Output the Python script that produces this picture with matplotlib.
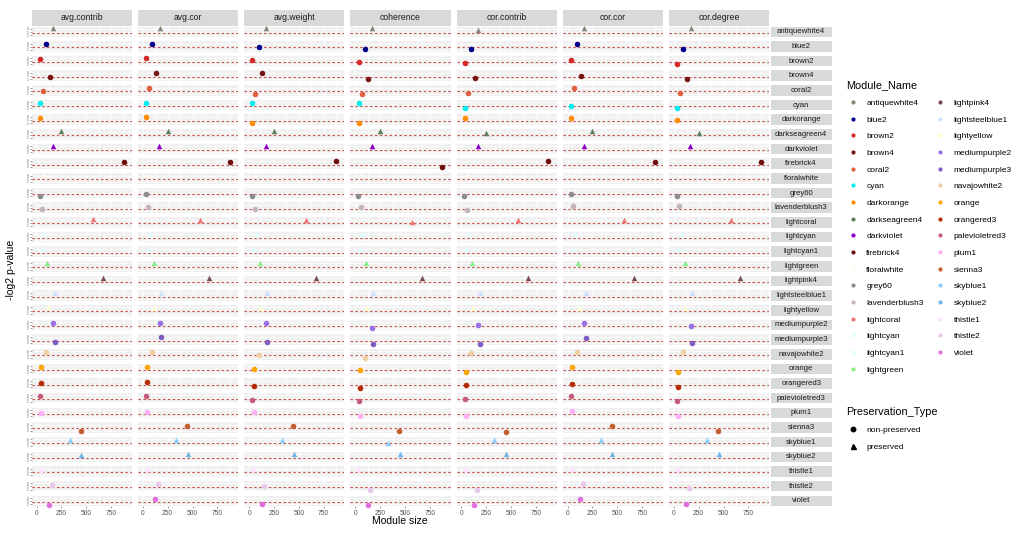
import numpy as np
import matplotlib
matplotlib.use("Agg")
import matplotlib.pyplot as plt
from matplotlib.lines import Line2D
from matplotlib.patches import Rectangle

plt.rcParams['font.family'] = ['Liberation Sans', 'DejaVu Sans']

# modules (rows), colours, module size, preservation type
modules = ["antiquewhite4", "blue2", "brown2", "brown4", "coral2", "cyan", "darkorange",
           "darkseagreen4", "darkviolet", "firebrick4", "floralwhite", "grey60",
           "lavenderblush3", "lightcoral", "lightcyan", "lightcyan1", "lightgreen",
           "lightpink4", "lightsteelblue1", "lightyellow", "mediumpurple2", "mediumpurple3",
           "navajowhite2", "orange", "orangered3", "palevioletred3", "plum1", "sienna3",
           "skyblue1", "skyblue2", "thistle1", "thistle2", "violet"]
colours = ["#8B8378", "#00008B", "#D62828", "#7A1414", "#E0603F", "#00F0F0", "#FF8C00",
           "#5E7E5E", "#8A00C8", "#6E0E0E", "#FFFAF0", "#8C8C8C",
           "#C4B5BA", "#EE7676", "#E0FFFF", "#E0FFFF", "#88EE88",
           "#7A4A52", "#CAE1FF", "#FFFFD0", "#9A70E8", "#7E5CC4",
           "#EECFA1", "#FFA500", "#B52A00", "#C45C80", "#FFB0F8", "#C45E2E",
           "#87CEFF", "#6EB4E6", "#FFE1FF", "#EBC8EB", "#E070E0"]
module_size = [169, 96, 33, 132, 63, 33, 33, 249, 166, 876, 60, 30, 56, 571, 70, 50, 109,
               670, 182, 116, 169, 182, 96, 46, 46, 33, 46, 444, 332, 451, 40, 152, 126]
preserved = [1, 0, 0, 0, 0, 0, 0, 1, 1, 0, 1, 0, 0, 1, 1, 1, 1,
             1, 1, 1, 0, 0, 0, 0, 0, 0, 0, 0, 1, 1, 1, 0, 0]

statistics = ["avg.contrib", "avg.cor", "avg.weight", "coherence",
              "cor.contrib", "cor.cor", "cor.degree"]

# -log2 p-values, one list per statistic (module order as above)
avg_contrib = [8.6, 7.3, 6.8, 3.6, 4.3, 7.3, 7.0, 8.3, 8.0, 7.0, 8.3, 2.6, 4.0, 8.3, 8.3, 8.3, 8.3,
               8.3, 8.0, 8.3, 7.3, 2.6, 7.3, 7.0, 5.6, 7.3, 5.6, 2.3, 7.0, 7.3, 7.0, 6.6, 1.0]
avg_cor = [8.6, 7.3, 8.0, 7.6, 7.3, 7.6, 7.6, 8.3, 8.3, 7.3, 8.3, 4.3, 6.0, 8.0, 8.3, 8.3, 8.6,
           8.0, 8.0, 7.6, 7.0, 7.6, 7.3, 7.3, 7.0, 7.0, 6.6, 7.0, 7.6, 7.6, 7.6, 7.0, 6.6]
avg_weight = [8.6, 4.3, 6.0, 7.6, 2.0, 7.3, 2.3, 8.3, 8.3, 7.6, 8.3, 2.6, 4.3, 8.0, 8.3, 8.3, 8.3,
              8.0, 8.0, 7.6, 7.0, 2.6, 4.3, 5.0, 2.6, 3.6, 6.0, 7.0, 7.6, 7.6, 7.6, 5.3, 2.6]
coherence = [8.6, 2.3, 4.3, 2.3, 2.0, 7.6, 2.3, 8.3, 8.3, 2.3, 8.3, 2.3, 6.3, 5.3, 8.3, 8.3, 8.3,
             8.0, 8.0, 7.6, 2.0, 1.3, 1.6, 4.3, 1.0, 2.6, 2.3, 1.6, 4.3, 7.6, 7.6, 1.3, 1.6]
cor_contrib = [7.3, 2.6, 3.0, 2.6, 2.3, 2.0, 6.6, 6.6, 8.3, 7.6, 8.3, 2.0, 3.3, 8.0, 8.3, 8.3, 8.3,
               8.0, 8.0, 7.6, 5.6, 1.3, 6.0, 2.6, 4.0, 4.3, 2.0, 1.0, 7.6, 7.6, 7.6, 1.3, 1.6]
cor_cor = [8.6, 7.3, 6.6, 5.0, 7.3, 4.6, 7.3, 8.3, 8.3, 7.3, 8.3, 4.6, 7.3, 8.0, 8.3, 8.3, 8.3,
           8.0, 8.0, 7.6, 7.0, 7.3, 7.3, 7.3, 5.3, 7.0, 7.0, 7.0, 7.6, 7.6, 7.6, 7.0, 6.6]
cor_degree = [8.6, 2.3, 2.3, 2.3, 3.0, 2.6, 5.3, 6.6, 8.3, 7.3, 8.3, 2.0, 7.0, 7.6, 8.3, 8.3, 8.3,
              8.0, 8.0, 7.6, 4.6, 2.0, 7.0, 2.0, 2.3, 2.6, 2.0, 2.0, 7.6, 7.6, 7.6, 3.3, 2.3]
pvals = [avg_contrib, avg_cor, avg_weight, coherence, cor_contrib, cor_cor, cor_degree]

threshold = -np.log2(0.05)
xgrid = [0, 125, 250, 375, 500, 625, 750, 875]
ygrid = [2, 5, 8]

W, H = 1021, 539
fig = plt.figure(figsize=(W / 100, H / 100), dpi=100)
nrow, ncol = len(modules), len(statistics)
col_w, row_h = 100.3, 10.5
gs = fig.add_gridspec(nrow, ncol, left=31.7 / W, right=769.2 / W,
                      top=1 - 26.5 / H, bottom=1 - 506.1 / H,
                      wspace=5.9 / col_w, hspace=4.16 / row_h)

strip_bg = "#D9D9D9"
for i, mod in enumerate(modules):
    for j, stat in enumerate(statistics):
        ax = fig.add_subplot(gs[i, j])
        ax.set_facecolor("#F0F0F0")
        for sp in ax.spines.values():
            sp.set_visible(False)
        ax.set_xlim(-50, 960)
        ax.set_ylim(0.1, 10.4)
        for gx in xgrid:
            ax.axvline(gx, color="white", lw=0.5, zorder=1)
        for gy in ygrid:
            ax.axhline(gy, color="white", lw=0.5, zorder=1)
        ax.axhline(threshold, color="#C9504A", ls=(0, (2.2, 2.2)), lw=0.8, zorder=2)
        mk = "^" if preserved[i] else "o"
        ax.scatter([module_size[i]], [pvals[j][i]], s=16, marker=mk,
                   color=colours[i], linewidths=0, zorder=3, clip_on=False)
        if i == nrow - 1:
            ax.set_xticks([0, 250, 500, 750])
            ax.tick_params(axis="x", length=1.5, width=0.4, color="#555555",
                           labelsize=4.8, labelcolor="#555555", pad=1)
        else:
            ax.set_xticks([])
        if j == 0:
            ax.set_yticks(ygrid)
            ax.tick_params(axis="y", length=1.5, width=0.4, color="#555555",
                           labelsize=2.2, labelcolor="#555555", pad=0.5)
        else:
            ax.set_yticks([])
        if i == 0:
            ax.add_patch(Rectangle((0, 1 + 1 / row_h), 1, 16 / row_h, transform=ax.transAxes,
                                   facecolor=strip_bg, edgecolor="none", clip_on=False))
            ax.text(0.5, 1 + 9 / row_h, stat, transform=ax.transAxes, ha="center",
                    va="center", fontsize=6.2, color="#1A1A1A")
        if j == ncol - 1:
            x0 = 1 + 1.5 / col_w
            ax.add_patch(Rectangle((x0, 0), 61 / col_w, 1, transform=ax.transAxes,
                                   facecolor=strip_bg, edgecolor="none", clip_on=False))
            ax.text(x0 + 30.5 / col_w, 0.5, mod, transform=ax.transAxes, ha="center",
                    va="center", fontsize=5.6, color="#1A1A1A")

fig.text(400 / W, 1 - 521 / H, "Module size", ha="center", va="center", fontsize=7.5)
fig.text(11 / W, 0.5, "-log2 p-value", ha="center", va="center", rotation=90, fontsize=7.5)

# legends
mod_handles = [Line2D([], [], ls="", marker="o", markersize=3.0, color=c, markeredgewidth=0)
               for c in colours]
fig.legend(mod_handles, modules, ncol=2, loc="upper left",
           bbox_to_anchor=(843 / W, 1 - 77 / H), frameon=False,
           title="Module_Name", title_fontsize=7.8, fontsize=6,
           alignment="left", handlelength=1.6, handletextpad=0.8,
           labelspacing=1.06, columnspacing=1.2, borderaxespad=0)
type_handles = [Line2D([], [], ls="", marker="o", markersize=3.2, color="black"),
                Line2D([], [], ls="", marker="^", markersize=3.6, color="black")]
fig.legend(type_handles, ["non-preserved", "preserved"], loc="upper left",
           bbox_to_anchor=(843 / W, 1 - 404 / H), frameon=False,
           title="Preservation_Type", title_fontsize=7.8, fontsize=6,
           alignment="left", handlelength=1.6, handletextpad=0.8,
           labelspacing=1.06, borderaxespad=0)

fig.savefig("out.png", dpi=100)
